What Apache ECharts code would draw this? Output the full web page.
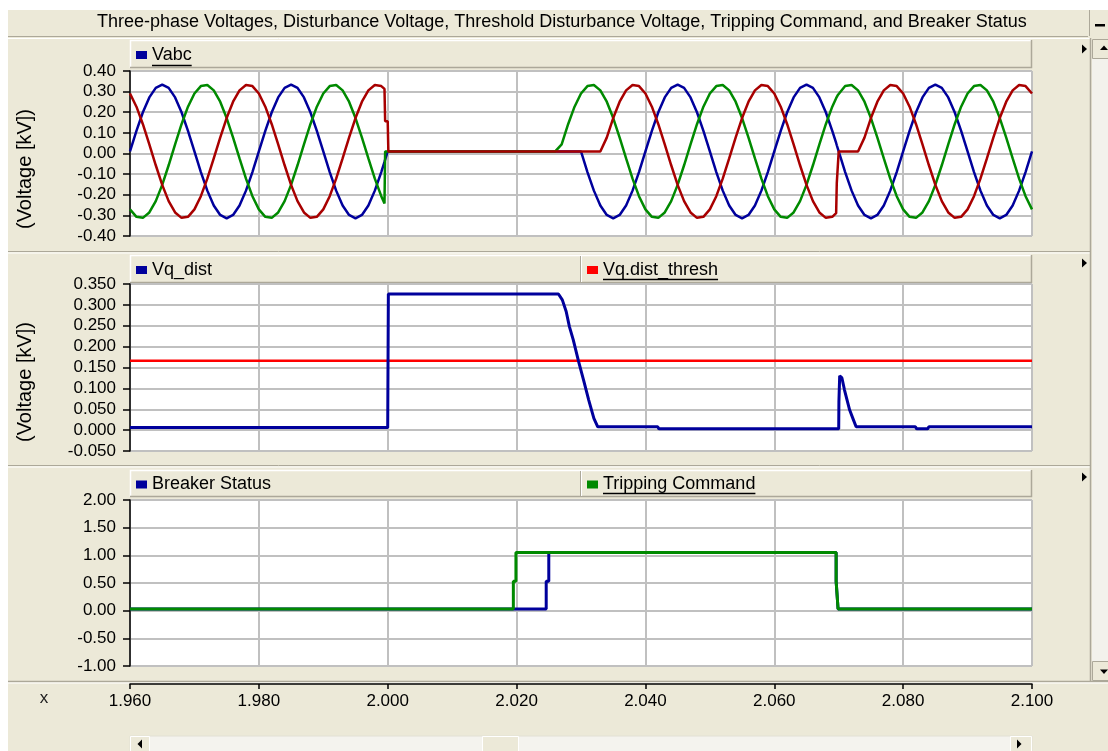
<!DOCTYPE html>
<html><head><meta charset="utf-8">
<script src="https://cdn.jsdelivr.net/npm/echarts@6/dist/echarts.min.js"></script>
<style>html,body{margin:0;padding:0;background:#fff;}#c{width:1108px;height:751px;}</style>
</head><body><div id="c"></div>
<script>
// ---------- data ----------
const xTicks = [1.96, 1.98, 2.00, 2.02, 2.04, 2.06, 2.08, 2.10];

// time base of the three-phase voltages (s)
const tV = [
1.960,1.961,1.962,1.963,1.964,1.965,1.966,1.967,1.968,1.969,
1.970,1.971,1.972,1.973,1.974,1.975,1.976,1.977,1.978,1.979,
1.980,1.981,1.982,1.983,1.984,1.985,1.986,1.987,1.988,1.989,
1.990,1.991,1.992,1.993,1.994,1.995,1.996,1.997,1.998,1.999,
1.9995,1.9996,
2.000,2.0001,
2.001,2.002,2.003,2.004,2.005,2.006,2.007,2.008,2.009,
2.010,2.011,2.012,2.013,2.014,2.015,2.016,2.017,2.018,2.019,
2.020,2.021,2.022,2.023,2.024,2.025,2.026,2.027,2.028,2.029,
2.030,2.031,2.032,2.033,2.034,2.035,2.036,2.037,2.038,2.039,
2.040,2.041,2.042,2.043,2.044,2.045,2.046,2.047,2.048,2.049,
2.050,2.051,2.052,2.053,2.054,2.055,2.056,2.057,2.058,2.059,
2.060,2.061,2.062,2.063,2.064,2.065,2.066,2.067,2.068,2.069,
2.0696,2.0697,2.0699,
2.070,2.071,2.072,2.073,2.074,2.075,2.076,2.077,2.078,2.079,
2.080,2.081,2.082,2.083,2.084,2.085,2.086,2.087,2.088,2.089,
2.090,2.091,2.092,2.093,2.094,2.095,2.096,2.097,2.098,2.099,
2.100];

// Vabc, blue phase (kV)
const vA = [
0.010,0.110,0.200,0.272,0.318,0.334,0.318,0.272,0.200,0.110,
0.010,-0.090,-0.180,-0.252,-0.298,-0.314,-0.298,-0.252,-0.180,-0.090,
0.010,0.110,0.200,0.272,0.318,0.334,0.318,0.272,0.200,0.110,
0.010,-0.090,-0.180,-0.252,-0.298,-0.314,-0.298,-0.252,-0.180,-0.090,
-0.041,-0.030,
0.010,0.010,
0.010,0.010,0.010,0.010,0.010,0.010,0.010,0.010,0.010,
0.010,0.010,0.010,0.010,0.010,0.010,0.010,0.010,0.010,0.010,
0.010,0.010,0.010,0.010,0.010,0.010,0.010,0.010,0.010,0.010,
0.010,-0.090,-0.180,-0.252,-0.298,-0.314,-0.298,-0.252,-0.180,-0.090,
0.010,0.110,0.200,0.272,0.318,0.334,0.318,0.272,0.200,0.110,
0.010,-0.090,-0.180,-0.252,-0.298,-0.314,-0.298,-0.252,-0.180,-0.090,
0.010,0.110,0.200,0.272,0.318,0.334,0.318,0.272,0.200,0.110,
0.051,0.040,0.020,
0.010,-0.090,-0.180,-0.252,-0.298,-0.314,-0.298,-0.252,-0.180,-0.090,
0.010,0.110,0.200,0.272,0.318,0.334,0.318,0.272,0.200,0.110,
0.010,-0.090,-0.180,-0.252,-0.298,-0.314,-0.298,-0.252,-0.180,-0.090,
0.010];

// Vabc, red phase (kV)
const vB = [
0.291,0.227,0.142,0.044,-0.057,-0.152,-0.231,-0.286,-0.312,-0.307,
-0.271,-0.207,-0.122,-0.024,0.077,0.172,0.251,0.306,0.332,0.327,
0.291,0.227,0.142,0.044,-0.057,-0.152,-0.231,-0.286,-0.312,-0.307,
-0.271,-0.207,-0.122,-0.024,0.077,0.172,0.251,0.306,0.332,0.327,
0.313,0.156,
0.156,0.010,
0.010,0.010,0.010,0.010,0.010,0.010,0.010,0.010,0.010,
0.010,0.010,0.010,0.010,0.010,0.010,0.010,0.010,0.010,0.010,
0.010,0.010,0.010,0.010,0.010,0.010,0.010,0.010,0.010,0.010,
0.010,0.010,0.010,0.010,0.077,0.172,0.251,0.306,0.332,0.327,
0.291,0.227,0.142,0.044,-0.057,-0.152,-0.231,-0.286,-0.312,-0.307,
-0.271,-0.207,-0.122,-0.024,0.077,0.172,0.251,0.306,0.332,0.327,
0.291,0.227,0.142,0.044,-0.057,-0.152,-0.231,-0.286,-0.312,-0.307,
-0.289,-0.144,-0.144,
0.010,0.010,0.010,0.010,0.077,0.172,0.251,0.306,0.332,0.327,
0.291,0.227,0.142,0.044,-0.057,-0.152,-0.231,-0.286,-0.312,-0.307,
-0.271,-0.207,-0.122,-0.024,0.077,0.172,0.251,0.306,0.332,0.327,
0.291];

// Vabc, green phase (kV)
const vC = [
-0.271,-0.307,-0.312,-0.286,-0.231,-0.152,-0.057,0.044,0.142,0.227,
0.291,0.327,0.332,0.306,0.251,0.172,0.077,-0.024,-0.122,-0.207,
-0.271,-0.307,-0.312,-0.286,-0.231,-0.152,-0.057,0.044,0.142,0.227,
0.291,0.327,0.332,0.306,0.251,0.172,0.077,-0.024,-0.122,-0.207,
-0.242,0.010,
0.010,0.010,
0.010,0.010,0.010,0.010,0.010,0.010,0.010,0.010,0.010,
0.010,0.010,0.010,0.010,0.010,0.010,0.010,0.010,0.010,0.010,
0.010,0.010,0.010,0.010,0.010,0.010,0.010,0.044,0.142,0.227,
0.291,0.327,0.332,0.306,0.251,0.172,0.077,-0.024,-0.122,-0.207,
-0.271,-0.307,-0.312,-0.286,-0.231,-0.152,-0.057,0.044,0.142,0.227,
0.291,0.327,0.332,0.306,0.251,0.172,0.077,-0.024,-0.122,-0.207,
-0.271,-0.307,-0.312,-0.286,-0.231,-0.152,-0.057,0.044,0.142,0.227,
0.268,0.274,0.285,
0.291,0.327,0.332,0.306,0.251,0.172,0.077,-0.024,-0.122,-0.207,
-0.271,-0.307,-0.312,-0.286,-0.231,-0.152,-0.057,0.044,0.142,0.227,
0.291,0.327,0.332,0.306,0.251,0.172,0.077,-0.024,-0.122,-0.207,
-0.271];

// Vq_dist
const tDist = [1.960,2.0000,2.0001,2.0265,2.0271,2.0277,2.0282,2.0288,2.0296,2.0304,2.0312,2.0320,2.0326,
               2.0419,2.0421,2.0700,2.07003,2.0701,2.07015,2.0705,2.0709,2.0717,2.0723,2.0727,
               2.0819,2.0821,2.0838,2.0840,2.100];
const vDist = [0.006,0.006,0.326,0.326,0.312,0.284,0.248,0.216,0.166,0.120,0.072,0.028,0.008,
               0.008,0.003,0.003,0.068,0.068,0.130,0.125,0.096,0.048,0.024,0.008,
               0.008,0.003,0.003,0.008,0.008];
// Vq.dist_thresh
const tThresh = [1.960, 2.100];
const vThresh = [0.166, 0.166];

// Breaker Status / Tripping Command
const tBrk  = [1.960,2.0246,2.0246,2.0250,2.0250,2.0696,2.0696,2.0699,2.0699,2.100];
const vBrk  = [0.03,0.03,0.53,0.53,1.05,1.05,0.53,0.53,0.03,0.03];
const tTrip = [1.960,2.0195,2.0195,2.0199,2.0199,2.0696,2.0696,2.0699,2.0699,2.100];
const vTrip = [0.03,0.03,0.53,0.53,1.05,1.05,0.53,0.53,0.03,0.03];

const titleText = 'Three-phase Voltages, Disturbance Voltage, Threshold Disturbance Voltage, Tripping Command, and Breaker Status';
const yTitle = '(Voltage [kV])';

// ---------- chart ----------
const FONT = '"Liberation Sans", Arial, sans-serif';
const BEIGE = '#ECE9D8', EDGE = '#ACA899';
const BLUE = '#00009C', RED = '#A80000', GREEN = '#008A00';
const pairs = (t, v) => t.map((x, i) => [x, v[i]]);
const fmt = d => v => (Math.abs(v) < 1e-9 ? 0 : v).toFixed(d);

function xAx(i, show) {
  return {
    type: 'value', gridIndex: i, min: xTicks[0], max: xTicks[xTicks.length - 1], interval: 0.02,
    offset: show ? 18 : 0,
    axisLine: { show: show, onZero: false, lineStyle: { color: '#000', width: 1.5 } },
    axisTick: { show: show, length: 5, lineStyle: { color: '#000', width: 1.5 } },
    axisLabel: { show: show, margin: 9, fontSize: 17, fontFamily: FONT, color: '#000', formatter: fmt(3) },
    splitLine: { show: true, lineStyle: { color: '#C0C0C0', width: 2 } }
  };
}
function yAx(i, min, max, interval, d) {
  return {
    type: 'value', gridIndex: i, min: min, max: max, interval: interval,
    axisLine: { show: true, onZero: false, lineStyle: { color: '#000', width: 1.5 } },
    axisTick: { show: true, length: 7, lineStyle: { color: '#000', width: 1.5 } },
    axisLabel: { margin: 14, fontSize: 17, fontFamily: FONT, color: '#000', formatter: fmt(d) },
    splitLine: { show: true, lineStyle: { color: '#C0C0C0', width: 2 } }
  };
}
const line = (name, xi, t, v, color, w) => ({
  name: name, type: 'line', xAxisIndex: xi, yAxisIndex: xi, data: pairs(t, v),
  showSymbol: false, symbol: 'none', color: color, lineStyle: { color: color, width: w }, animation: false
});

const ctx = document.createElement('canvas').getContext('2d');
ctx.font = '18px "Liberation Sans"';
const tw = s => ctx.measureText(s).width;

const g = [];
g.push({ type: 'rect', z: -10, shape: { x: 0, y: 0, width: 8, height: 751 }, style: { fill: '#fff' } });
g.push({ type: 'rect', z: -10, shape: { x: 0, y: 0, width: 1108, height: 10 }, style: { fill: '#fff' } });
// title bar edges
g.push({ type: 'line', shape: { x1: 8, y1: 36.5, x2: 1088, y2: 36.5 }, style: { stroke: EDGE, lineWidth: 1 } });
g.push({ type: 'line', shape: { x1: 8, y1: 38.5, x2: 1090, y2: 38.5 }, style: { stroke: '#fff', lineWidth: 1 } });
g.push({ type: 'line', shape: { x1: 1089.5, y1: 10, x2: 1089.5, y2: 36 }, style: { stroke: EDGE, lineWidth: 1 } });
g.push({ type: 'rect', shape: { x: 1095, y: 24, width: 10, height: 2.5 }, style: { fill: '#000' } });
// panel headers
function header(y, h, split) {
  g.push({ type: 'rect', shape: { x: 130, y: y, width: 902, height: h }, style: { fill: BEIGE } });
  g.push({ type: 'polyline', shape: { points: [[130.5, y + h], [130.5, y + 0.5], [1031, y + 0.5]] }, style: { stroke: '#fff', lineWidth: 1.5, fill: null } });
  g.push({ type: 'polyline', shape: { points: [[130, y + h - 0.5], [1031.5, y + h - 0.5], [1031.5, y]] }, style: { stroke: EDGE, lineWidth: 1.5, fill: null } });
  if (split) {
    g.push({ type: 'line', shape: { x1: 580.5, y1: y + 1, x2: 580.5, y2: y + h - 1 }, style: { stroke: EDGE, lineWidth: 1 } });
    g.push({ type: 'line', shape: { x1: 581.5, y1: y + 1, x2: 581.5, y2: y + h - 1 }, style: { stroke: '#fff', lineWidth: 1 } });
  }
}
header(40, 28, false);
header(255, 28, true);
header(470, 27, true);
// panel separators
[251.5, 465.5].forEach(y => {
  g.push({ type: 'line', shape: { x1: 8, y1: y, x2: 1090, y2: y }, style: { stroke: EDGE, lineWidth: 1 } });
  g.push({ type: 'line', shape: { x1: 8, y1: y + 1.5, x2: 1090, y2: y + 1.5 }, style: { stroke: '#fff', lineWidth: 1 } });
});
g.push({ type: 'line', shape: { x1: 8, y1: 681.5, x2: 1108, y2: 681.5 }, style: { stroke: EDGE, lineWidth: 1.5 } });
g.push({ type: 'line', shape: { x1: 8, y1: 683, x2: 1108, y2: 683 }, style: { stroke: '#fff', lineWidth: 1 } });
// small triangles
[49, 263, 477].forEach(y => g.push({ type: 'polygon', shape: { points: [[1082, y - 4.5], [1087, y], [1082, y + 4.5]] }, style: { fill: '#000' } }));
// vertical scrollbar
g.push({ type: 'line', shape: { x1: 1090.5, y1: 38, x2: 1090.5, y2: 681 }, style: { stroke: EDGE, lineWidth: 1.5 } });
g.push({ type: 'rect', shape: { x: 1092, y: 39, width: 16, height: 642 }, style: { fill: '#F3F2EC' } });
g.push({ type: 'rect', shape: { x: 1092.5, y: 39.5, width: 16, height: 19 }, style: { fill: BEIGE, stroke: EDGE, lineWidth: 1 } });
g.push({ type: 'polygon', shape: { points: [[1100, 50], [1104, 45.5], [1108, 50]] }, style: { fill: '#000' } });
g.push({ type: 'rect', shape: { x: 1092.5, y: 661.5, width: 16, height: 19 }, style: { fill: BEIGE, stroke: EDGE, lineWidth: 1 } });
g.push({ type: 'polygon', shape: { points: [[1100, 669.5], [1104, 674], [1108, 669.5]] }, style: { fill: '#000' } });
// bottom scrollbar
g.push({ type: 'rect', shape: { x: 130, y: 736, width: 902, height: 16 }, style: { fill: '#F4F3EE', stroke: '#E2E0D4', lineWidth: 1 } });
g.push({ type: 'rect', shape: { x: 130.5, y: 736.5, width: 19, height: 16 }, style: { fill: BEIGE, stroke: '#fff', lineWidth: 1 } });
g.push({ type: 'polygon', shape: { points: [[137.5, 744], [142, 739.5], [142, 748.5]] }, style: { fill: '#000' } });
g.push({ type: 'rect', shape: { x: 482.5, y: 736.5, width: 36, height: 16 }, style: { fill: BEIGE, stroke: '#fff', lineWidth: 1 } });
g.push({ type: 'rect', shape: { x: 1010.5, y: 736.5, width: 21, height: 16 }, style: { fill: BEIGE, stroke: '#fff', lineWidth: 1 } });
g.push({ type: 'polygon', shape: { points: [[1017, 739.5], [1021.5, 744], [1017, 748.5]] }, style: { fill: '#000' } });
// y-axis titles
[169, 382].forEach(y => g.push({ type: 'text', x: 25.5, y: y, rotation: Math.PI / 2,
  style: { text: yTitle, font: '20px "Liberation Sans"', fill: '#000', align: 'center', verticalAlign: 'middle' } }));
// x label
g.push({ type: 'text', x: 44, y: 698, style: { text: 'x', font: '17px "Liberation Sans"', fill: '#222', align: 'center', verticalAlign: 'middle' } });
// underlines of the legend labels
[['Vabc', 152, 65.5], ['Vq.dist_thresh', 603, 279.5], ['Tripping Command', 603, 493.5]].forEach(([s, x, y]) =>
  g.push({ type: 'line', z: 10, shape: { x1: x, y1: y, x2: x + tw(s), y2: y }, style: { stroke: '#000', lineWidth: 1.3 } }));

const legendBase = (names, left, top) => ({
  data: names, left: left, top: top, padding: 0, icon: 'rect', itemWidth: 11, itemHeight: 8,
  selectedMode: false, textStyle: { fontSize: 18, fontFamily: FONT, color: '#000' }
});

const option = {
  animation: false,
  backgroundColor: BEIGE,
  title: { text: titleText, left: 97, top: 13, textStyle: { fontSize: 18, fontWeight: 'normal', fontFamily: FONT, color: '#000' }, padding: 0 },
  graphic: g,
  legend: [
    legendBase(['Vabc'], 136, 46),
    legendBase(['Vq_dist'], 136, 261),
    legendBase(['Vq.dist_thresh'], 587, 261),
    legendBase(['Breaker Status'], 136, 475.5),
    legendBase(['Tripping Command'], 587, 475.5)
  ],
  grid: [
    { left: 130, right: 76, top: 71, height: 165, show: true, backgroundColor: '#fff', borderColor: '#9A9A9A', borderWidth: 1 },
    { left: 130, right: 76, top: 284, height: 167, show: true, backgroundColor: '#fff', borderColor: '#9A9A9A', borderWidth: 1 },
    { left: 130, right: 76, top: 500, height: 166, show: true, backgroundColor: '#fff', borderColor: '#9A9A9A', borderWidth: 1 }
  ],
  xAxis: [xAx(0, false), xAx(1, false), xAx(2, true)],
  yAxis: [yAx(0, -0.4, 0.4, 0.1, 2), yAx(1, -0.05, 0.35, 0.05, 3), yAx(2, -1, 2, 0.5, 2)],
  series: [
    line('Vabc', 0, tV, vA, BLUE, 2.5),
    line('Vabc', 0, tV, vC, GREEN, 2.5),
    line('Vabc', 0, tV, vB, RED, 2.5),
    line('Vq.dist_thresh', 1, tThresh, vThresh, '#FF0000', 2.5),
    line('Vq_dist', 1, tDist, vDist, BLUE, 3),
    line('Breaker Status', 2, tBrk, vBrk, BLUE, 3),
    line('Tripping Command', 2, tTrip, vTrip, GREEN, 3)
  ]
};
const chart = echarts.init(document.getElementById('c'), null, { renderer: 'canvas' });
chart.setOption(option);
</script></body></html>
